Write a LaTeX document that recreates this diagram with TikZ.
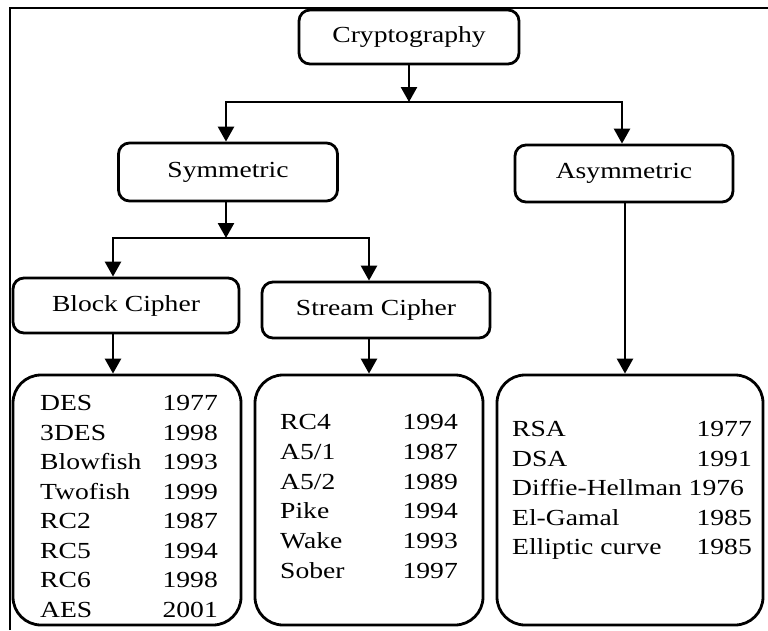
\documentclass[tikz,border=0pt]{standalone}
\usepackage{fontspec}
\setmainfont[FakeStretch=1.2]{Liberation Serif}
\usetikzlibrary{arrows.meta}
\begin{document}
\begin{tikzpicture}[x=1pt,y=-1pt,
  catbox/.style={draw,line width=2.8pt,rounded corners=11pt,inner sep=0pt,
    font=\fontsize{23}{27}\selectfont},
  listbox/.style={draw,line width=2.8pt,rounded corners=28pt,inner sep=0pt},
  arr/.style={line width=2.6pt,-{Triangle[length=15pt,width=16pt]}},
  entry/.style={font=\fontsize{23}{27}\selectfont,inner sep=0pt},
]
\useasboundingbox (0,0) rectangle (768,630);
% outer frame (top and left)
\draw[line width=2pt] (10,630) -- (10,8) -- (768,8);

% category boxes
\node[catbox,minimum width=220pt,minimum height=54pt] (crypto) at (409,37) {Cryptography};
\node[catbox,minimum width=219pt,minimum height=58pt] (sym) at (228,172) {Symmetric};
\node[catbox,minimum width=218pt,minimum height=57pt] (asym) at (624,173.5) {Asymmetric};
\node[catbox,minimum width=226pt,minimum height=55pt] (block) at (126,305.5) {Block Cipher};
\node[catbox,minimum width=228pt,minimum height=56pt] (stream) at (376,310) {Stream Cipher};

% algorithm lists
\node[listbox,minimum width=228pt,minimum height=250pt] (blist) at (127,500) {};
\node[listbox,minimum width=228pt,minimum height=250pt] (slist) at (369,500) {};
\node[listbox,minimum width=266pt,minimum height=250pt] (alist) at (630,500) {};

% connectors
\coordinate (j1) at (409,102);
\coordinate (j2) at (226,238);
\draw[arr] (crypto.south) -- (j1);
\draw[arr] (j1) -| ([xshift=-2pt]sym.north);
\draw[arr] (j1) -| ([xshift=-2pt]asym.north);
\draw[arr] ([xshift=-2pt]sym.south) -- (j2);
\draw[arr] (j2) -| ([xshift=-13pt]block.north);
\draw[arr] (j2) -| ([xshift=-7pt]stream.north);
\draw[arr] ([xshift=-13pt]block.south) -- ([xshift=-13pt]block.south |- blist.north);
\draw[arr] ([xshift=-7pt]stream.south) -- ([xshift=-7pt]stream.south |- slist.north);
\draw[arr] ([xshift=1pt]asym.south) -- ([xshift=1pt]asym.south |- alist.north);

% block ciphers
\foreach \nm/\yr [count=\i] in {DES/1977,3DES/1998,Blowfish/1993,Twofish/1999,
    RC2/1987,RC5/1994,RC6/1998,AES/2001} {
  \node[entry,anchor=base west] (bn\i) at (40,{410.5+29.5*(\i-1)}) {\nm};
  \node[entry,anchor=base east] (by\i) at (218,{410.5+29.5*(\i-1)}) {\yr};
}
% stream ciphers
\foreach \nm/\yr [count=\i] in {RC4/1994,{A5/1}/1987,{A5/2}/1989,Pike/1994,
    Wake/1993,Sober/1997} {
  \node[entry,anchor=base west] (sn\i) at (280,{429.5+29.8*(\i-1)}) {\nm};
  \node[entry,anchor=base east] (sy\i) at (458,{429.5+29.8*(\i-1)}) {\yr};
}
% asymmetric algorithms
\node[entry,anchor=base west] (an1) at (512,436.5) {RSA};
\node[entry,anchor=base east] (ay1) at (752,436.5) {1977};
\node[entry,anchor=base west] (an2) at (512,466) {DSA};
\node[entry,anchor=base east] (ay2) at (752,466) {1991};
\node[entry,anchor=base west] (an3) at (512,495.5) {Diffie-Hellman 1976};
\node[entry,anchor=base west] (an4) at (512,525) {El-Gamal};
\node[entry,anchor=base east] (ay4) at (752,525) {1985};
\node[entry,anchor=base west] (an5) at (512,554.5) {Elliptic curve};
\node[entry,anchor=base east] (ay5) at (752,554.5) {1985};
\end{tikzpicture}
\end{document}
